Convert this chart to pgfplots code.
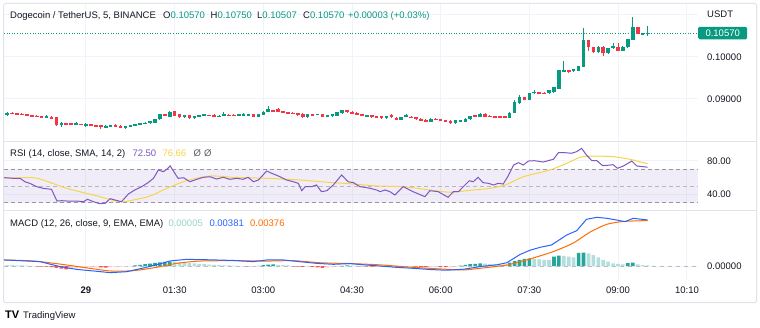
\documentclass[border=0pt]{standalone}
\usepackage{fontspec}
\setmainfont{Liberation Sans}
\usepackage{pgfplots}
\pgfplotsset{compat=1.18}
\usepackage{pgfplotstable}
\newcommand{\tvf}{\fontsize{9.5}{11.5}\selectfont}
\definecolor{tvgreen}{HTML}{089981}
\definecolor{tvred}{HTML}{F23645}
\definecolor{tvtext}{HTML}{131722}
\definecolor{tvgrid}{HTML}{F0F3FA}
\definecolor{tvborder}{HTML}{E0E3EB}
\definecolor{rsipurple}{HTML}{7E57C2}
\definecolor{rsiyellow}{HTML}{F7D54A}
\definecolor{bandgray}{HTML}{9598A1}
\definecolor{zerogray}{HTML}{B8BBC2}
\definecolor{macdblue}{HTML}{2962FF}
\definecolor{macdorange}{HTML}{FF6D00}
\definecolor{hdark}{HTML}{26A69A}
\definecolor{hlight}{HTML}{B2DFDB}
\definecolor{hred}{HTML}{FF5252}
\definecolor{hpink}{HTML}{FFCDD2}

% ---------- candles (index i = 5-minute bar, 0 = 00:00 on the 29th) ----------
\pgfplotstableread{
i o h l c
-16 0.08612 0.08690 0.08595 0.08674
-8 0.08571 0.08619 0.08560 0.08595
-5 0.08381 0.08445 0.08340 0.08436
-2 0.08398 0.08452 0.08388 0.08421
0 0.08364 0.08421 0.08326 0.08412
4 0.08326 0.08374 0.08317 0.08364
5 0.08340 0.08388 0.08333 0.08381
8 0.08302 0.08364 0.08293 0.08357
9 0.08350 0.08388 0.08340 0.08381
10 0.08374 0.08412 0.08364 0.08405
11 0.08388 0.08429 0.08381 0.08421
12 0.08405 0.08445 0.08398 0.08436
13 0.08421 0.08483 0.08412 0.08476
14 0.08436 0.08531 0.08429 0.08524
15 0.08517 0.08643 0.08507 0.08636
17 0.08579 0.08707 0.08571 0.08698
20 0.08564 0.08619 0.08555 0.08612
22 0.08540 0.08595 0.08531 0.08588
23 0.08579 0.08626 0.08571 0.08619
24 0.08595 0.08643 0.08588 0.08636
27 0.08579 0.08612 0.08571 0.08602
28 0.08602 0.08690 0.08595 0.08643
31 0.08602 0.08643 0.08595 0.08636
32 0.08602 0.08674 0.08595 0.08643
33 0.08602 0.08650 0.08595 0.08643
35 0.08579 0.08650 0.08571 0.08643
36 0.08619 0.08707 0.08612 0.08698
37 0.08698 0.08833 0.08690 0.08755
45 0.08579 0.08643 0.08540 0.08636
47 0.08619 0.08650 0.08612 0.08643
49 0.08571 0.08626 0.08564 0.08619
50 0.08588 0.08643 0.08579 0.08636
51 0.08602 0.08690 0.08595 0.08683
52 0.08660 0.08745 0.08650 0.08738
57 0.08588 0.08626 0.08579 0.08619
61 0.08540 0.08602 0.08531 0.08595
64 0.08500 0.08579 0.08493 0.08571
65 0.08571 0.08650 0.08564 0.08612
70 0.08459 0.08540 0.08452 0.08531
75 0.08421 0.08507 0.08412 0.08500
76 0.08459 0.08507 0.08452 0.08500
77 0.08459 0.08540 0.08452 0.08531
78 0.08517 0.08602 0.08507 0.08595
80 0.08579 0.08660 0.08571 0.08650
86 0.08555 0.08683 0.08548 0.08674
87 0.08674 0.08976 0.08667 0.08921
88 0.08898 0.09095 0.08888 0.09040
90 0.08976 0.09143 0.08969 0.09136
91 0.09136 0.09214 0.09126 0.09174
94 0.09136 0.09221 0.09126 0.09214
95 0.09160 0.09286 0.09150 0.09279
96 0.09238 0.09698 0.09231 0.09691
97 0.09660 0.09905 0.09650 0.09691
99 0.09660 0.09714 0.09650 0.09707
100 0.09674 0.09793 0.09667 0.09786
101 0.09769 0.10683 0.09762 0.10405
104 0.10112 0.10255 0.10102 0.10245
106 0.10088 0.10214 0.10079 0.10207
107 0.10207 0.10326 0.10198 0.10262
109 0.10150 0.10255 0.10143 0.10245
110 0.10231 0.10429 0.10221 0.10421
111 0.10405 0.10960 0.10398 0.10707
113 0.10548 0.10579 0.10524 0.10571
114 0.10567 0.10750 0.10507 0.10570
}\candlesG

\pgfplotstableread{
i o h l c
-15 0.08667 0.08679 0.08631 0.08643
-14 0.08660 0.08667 0.08631 0.08643
-13 0.08650 0.08660 0.08619 0.08636
-12 0.08636 0.08643 0.08595 0.08602
-11 0.08612 0.08619 0.08571 0.08579
-10 0.08607 0.08619 0.08564 0.08571
-9 0.08583 0.08595 0.08560 0.08571
-7 0.08579 0.08588 0.08531 0.08540
-6 0.08564 0.08571 0.08369 0.08381
-4 0.08417 0.08429 0.08388 0.08398
-3 0.08417 0.08429 0.08388 0.08398
-1 0.08405 0.08412 0.08374 0.08381
1 0.08398 0.08405 0.08374 0.08381
2 0.08381 0.08388 0.08340 0.08350
3 0.08374 0.08381 0.08279 0.08326
6 0.08388 0.08398 0.08340 0.08350
7 0.08364 0.08374 0.08302 0.08310
16 0.08636 0.08643 0.08588 0.08595
18 0.08707 0.08721 0.08595 0.08607
19 0.08636 0.08643 0.08555 0.08564
21 0.08612 0.08619 0.08531 0.08540
25 0.08619 0.08626 0.08595 0.08602
26 0.08626 0.08636 0.08571 0.08579
29 0.08626 0.08636 0.08595 0.08602
30 0.08626 0.08636 0.08588 0.08595
34 0.08643 0.08650 0.08571 0.08579
38 0.08738 0.08745 0.08690 0.08698
39 0.08762 0.08793 0.08690 0.08698
40 0.08714 0.08721 0.08667 0.08674
41 0.08690 0.08698 0.08643 0.08650
42 0.08674 0.08683 0.08636 0.08643
43 0.08660 0.08667 0.08602 0.08612
44 0.08650 0.08660 0.08555 0.08564
46 0.08636 0.08643 0.08602 0.08612
48 0.08636 0.08643 0.08564 0.08571
53 0.08738 0.08745 0.08674 0.08683
54 0.08698 0.08707 0.08636 0.08643
55 0.08674 0.08683 0.08612 0.08619
56 0.08636 0.08643 0.08595 0.08602
58 0.08619 0.08626 0.08555 0.08564
59 0.08595 0.08602 0.08564 0.08571
60 0.08595 0.08602 0.08531 0.08540
62 0.08612 0.08643 0.08555 0.08564
63 0.08555 0.08564 0.08493 0.08500
66 0.08579 0.08588 0.08548 0.08555
67 0.08564 0.08571 0.08507 0.08517
68 0.08531 0.08540 0.08476 0.08483
69 0.08507 0.08517 0.08452 0.08459
71 0.08531 0.08540 0.08493 0.08500
72 0.08517 0.08524 0.08476 0.08483
73 0.08500 0.08507 0.08445 0.08452
74 0.08483 0.08493 0.08412 0.08421
79 0.08619 0.08626 0.08571 0.08579
81 0.08650 0.08674 0.08571 0.08579
82 0.08602 0.08612 0.08564 0.08571
83 0.08595 0.08602 0.08548 0.08555
84 0.08588 0.08595 0.08548 0.08555
85 0.08588 0.08595 0.08548 0.08555
89 0.09040 0.09055 0.08969 0.08976
92 0.09160 0.09167 0.09126 0.09136
93 0.09150 0.09160 0.09112 0.09119
98 0.09691 0.09698 0.09612 0.09650
102 0.10405 0.10412 0.10150 0.10231
103 0.10231 0.10238 0.10102 0.10112
105 0.10245 0.10255 0.10024 0.10088
108 0.10245 0.10326 0.10143 0.10150
112 0.10707 0.10714 0.10540 0.10548
}\candlesR

% ---------- RSI and its SMA ----------
\pgfplotstableread{
i r
-16.6 60.0
-14.8 59.2
-13.4 59.2
-12.4 55.1
-11.4 53.2
-10.0 49.2
-8.7 47.2
-7.0 46.0
-5.9 32.0
-4.9 32.4
-3.9 32.0
-1.9 32.0
-0.5 31.2
0.3 34.1
1.5 31.2
2.8 28.8
3.9 29.3
4.9 34.8
5.9 33.2
7.2 31.2
8.6 40.4
9.9 45.2
11.3 49.2
12.6 54.0
13.7 59.2
14.7 69.2
15.7 67.1
16.4 70.0
17.1 74.0
17.7 68.3
18.7 59.2
19.8 59.9
21.1 55.1
22.5 58.0
23.8 60.4
25.2 61.1
26.5 58.4
27.9 60.4
29.2 58.0
30.6 59.2
31.9 58.0
32.9 60.4
34.0 55.1
35.0 57.2
36.7 68.0
37.7 65.2
39.4 61.1
40.7 57.2
42.1 55.1
43.1 53.2
43.8 44.4
44.5 49.2
45.8 49.2
46.8 51.2
47.8 43.2
48.9 44.4
50.2 51.2
51.9 63.2
53.2 55.1
54.3 54.0
55.6 49.2
56.6 48.4
57.7 47.2
59.0 45.2
59.7 43.2
60.7 45.2
61.7 43.2
62.7 39.2
64.4 49.2
66.4 43.2
68.8 37.2
69.8 44.4
71.5 43.2
73.5 36.5
74.6 43.2
75.6 43.2
76.6 49.2
77.8 56.3
78.6 55.1
79.6 60.4
80.6 54.0
81.7 53.2
82.7 51.2
83.7 53.2
84.7 52.4
85.7 62.0
86.8 75.1
87.8 77.9
88.8 75.1
89.8 79.9
91.1 80.3
92.8 78.7
93.8 80.3
94.9 82.0
95.9 89.9
97.2 89.9
98.6 89.2
99.6 91.1
100.6 95.1
101.6 87.1
102.7 80.3
103.7 80.3
104.9 74.3
106.4 75.1
107.0 75.5
107.9 71.2
109.1 74.0
110.8 79.9
111.8 74.0
114.0 72.5
}\rsi

\pgfplotstableread{
i s
-16.6 59.5
-10.8 59.9
-8.7 57.2
-3.9 47.2
1.5 39.2
6.9 31.2
9.6 33.2
13.0 38.0
16.4 47.2
20.4 56.3
25.2 62.0
29.9 60.4
36.7 59.2
43.4 57.2
50.1 54.0
54.3 52.4
59.0 50.0
64.4 49.2
69.8 45.2
73.9 42.5
77.3 44.4
82.0 47.2
85.1 51.2
88.8 61.1
94.2 69.2
97.6 77.2
100.3 84.4
102.3 85.9
107.0 85.1
110.4 82.0
114.0 76.66
}\rsima

% ---------- MACD ----------
\pgfplotstableread{
i m
-16.6 0.00050
-13.4 0.00044
-9.3 0.00036
-5.3 -0.00005
-1.9 -0.00028
1.5 -0.00041
4.9 -0.00055
8.3 -0.00047
11.6 -0.00017
15.0 0.00018
17.1 0.00042
20.4 0.00055
24.5 0.00052
29.9 0.00046
34.0 0.00036
36.7 0.00050
40.1 0.00050
43.4 0.00036
46.8 0.00022
50.2 0.00014
53.6 0.00020
56.9 0.00008
59.0 0.00002
63.0 -0.00011
66.4 -0.00019
69.8 -0.00029
73.2 -0.00035
76.6 -0.00027
80.0 -0.00005
83.4 0.00010
85.4 0.00027
86.8 0.00062
88.1 0.00095
90.1 0.00130
92.2 0.00155
94.5 0.00174
95.5 0.00201
97.6 0.00257
99.6 0.00292
100.6 0.00339
101.6 0.00387
103.7 0.00403
105.7 0.00395
107.7 0.00381
109.4 0.00367
111.1 0.00395
114.0 0.00381
}\macd

\pgfplotstableread{
i s
-16.6 0.00050
-10.8 0.00042
-5.3 0.00016
0.1 -0.00015
4.9 -0.00041
9.6 -0.00039
14.3 -0.00011
18.4 0.00022
23.1 0.00041
29.9 0.00044
36.7 0.00041
42.1 0.00044
47.5 0.00027
53.6 0.00020
59.5 0.00010
66.4 -0.00011
73.2 -0.00027
76.6 -0.00033
80.0 -0.00019
85.4 0.00008
90.1 0.00058
94.9 0.00120
98.9 0.00190
102.3 0.00280
105.7 0.00345
109.1 0.00369
114.0 0.00376
}\signal

\pgfplotstableread{
i v
10 0.00005
11 0.00010
12 0.00015
13 0.00020
14 0.00026
15 0.00031
16 0.00034
17 0.00037
35 0.00002
36 0.00008
37 0.00012
38 0.00013
52 0.00002
53 0.00006
76 0.00004
77 0.00009
78 0.00016
79 0.00018
80 0.00022
86 0.00027
87 0.00040
88 0.00050
89 0.00058
90 0.00064
95 0.00077
96 0.00085
100 0.00108
101 0.00110
110 0.00024
111 0.00027
}\histD

\pgfplotstableread{
i v
-16 0.00008
-15 0.00007
-14 0.00006
-13 0.00005
-12 0.00003
-11 0.00002
18 0.00034
19 0.00030
20 0.00027
21 0.00024
22 0.00021
23 0.00018
24 0.00015
25 0.00012
26 0.00010
27 0.00008
28 0.00006
29 0.00005
30 0.00003
31 0.00002
39 0.00010
40 0.00008
41 0.00005
54 0.00004
55 0.00001
81 0.00019
82 0.00016
83 0.00014
84 0.00012
85 0.00011
91 0.00058
92 0.00054
93 0.00050
94 0.00050
97 0.00083
98 0.00078
99 0.00072
102 0.00105
103 0.00091
104 0.00072
105 0.00050
106 0.00036
107 0.00022
108 0.00017
109 0.00014
112 0.00014
113 0.00008
114 0.00005
}\histL

\pgfplotstableread{
i v
-10 -0.00003
-9 -0.00005
-8 -0.00006
-7 -0.00010
-6 -0.00016
-5 -0.00022
-4 -0.00028
3 -0.00012
4 -0.00014
32 -0.00002
33 -0.00004
42 -0.00003
43 -0.00005
44 -0.00008
46 -0.00008
47 -0.00012
48 -0.00016
56 -0.00003
57 -0.00004
58 -0.00005
62 -0.00004
63 -0.00006
67 -0.00005
68 -0.00007
69 -0.00009
72 -0.00009
73 -0.00010
}\histR

\pgfplotstableread{
i v
-3 -0.00025
-2 -0.00020
-1 -0.00016
0 -0.00013
1 -0.00012
2 -0.00011
5 -0.00012
6 -0.00010
7 -0.00008
8 -0.00005
9 -0.00002
34 -0.00003
45 -0.00007
49 -0.00013
50 -0.00010
51 -0.00006
59 -0.00004
60 -0.00004
61 -0.00003
64 -0.00005
65 -0.00004
66 -0.00004
70 -0.00008
71 -0.00007
74 -0.00009
75 -0.00006
}\histP

\pgfplotsset{
  tvpane/.style={
    scale only axis, width=694pt, xmin=-16.646, xmax=124.24,
    axis line style={draw=none},
    major tick length=0pt,
    scaled y ticks=false, scaled x ticks=false,
    xtick={0,18,36,54,72,90,108,122},
    xmajorgrids, ymajorgrids,
    major grid style={draw=tvgrid, line width=1pt},
    yticklabel pos=right,
    yticklabel style={anchor=west, inner sep=0pt, xshift=9pt, font=\tvf, text=tvtext},
    clip mode=individual,
  },
  wick/.style={draw=none, mark=none, forget plot,
    error bars/.cd, y dir=both, y explicit, error mark=none,
    error bar style={draw=#1, line width=1pt}},
  body/.style={draw=none, mark=none, forget plot,
    error bars/.cd, y dir=both, y explicit, error mark=none,
    error bar style={draw=#1, line width=3.6pt}},
  hbar/.style={ybar, bar width=3.6pt, bar shift=0pt, draw=none, fill=#1, forget plot},
}

\begin{document}
\begin{tikzpicture}[font=\tvf]
\useasboundingbox (0pt,0pt) rectangle (760pt,327pt);
\fill[white] (0pt,0pt) rectangle (760pt,327pt);

% ================= price pane =================
\begin{axis}[tvpane, at={(4pt,186pt)}, anchor=south west, height=137pt,
  ymin=0.08, ymax=0.112619,
  ytick={0.09,0.10,0.11}, yticklabels={0.09000,0.10000,{}},
  xticklabels={}]
\addplot[tvgreen, dash pattern=on 1pt off 1.6pt, line width=0.8pt, forget plot]
  coordinates {(-16.646,0.10570) (124.24,0.10570)};
\addplot[wick=tvgreen] table[x=i, y expr={(\thisrow{h}+\thisrow{l})/2}, y error expr={(\thisrow{h}-\thisrow{l})/2}] {\candlesG};
\addplot[wick=tvred] table[x=i, y expr={(\thisrow{h}+\thisrow{l})/2}, y error expr={(\thisrow{h}-\thisrow{l})/2}] {\candlesR};
\addplot[body=tvgreen] table[x=i, y expr={(\thisrow{o}+\thisrow{c})/2}, y error expr={max(abs(\thisrow{c}-\thisrow{o})/2,0.00011)}] {\candlesG};
\addplot[body=tvred] table[x=i, y expr={(\thisrow{o}+\thisrow{c})/2}, y error expr={max(abs(\thisrow{c}-\thisrow{o})/2,0.00011)}] {\candlesR};
\node[fill=tvgreen, text=white, font=\tvf, anchor=west, inner sep=0pt,
  minimum width=49pt, minimum height=12.6pt, rounded corners=1.5pt] at (axis cs:124.24,0.10570) {0.10570};
\end{axis}

% ================= RSI pane =================
\begin{axis}[tvpane, at={(4pt,117pt)}, anchor=south west, height=68pt,
  ymin=21.26, ymax=102.69,
  ytick={40,80}, yticklabels={40.00,80.00},
  xticklabels={}]
\addplot[draw=none, fill=rsipurple, fill opacity=0.1, forget plot]
  coordinates {(-16.646,30) (124.24,30) (124.24,70) (-16.646,70)};
\addplot[bandgray, line width=0.8pt, dash pattern=on 4pt off 3pt, forget plot]
  coordinates {(-16.646,70) (124.24,70)};
\addplot[bandgray!70, line width=0.8pt, dash pattern=on 4pt off 3pt, forget plot]
  coordinates {(-16.646,50) (124.24,50)};
\addplot[bandgray, line width=0.8pt, dash pattern=on 4pt off 3pt, forget plot]
  coordinates {(-16.646,30) (124.24,30)};
\addplot[rsiyellow, line width=1pt, smooth, tension=0.4] table[x=i, y=s] {\rsima};
\addplot[rsipurple, line width=1pt] table[x=i, y=r] {\rsi};
\end{axis}

% ================= MACD pane =================
\begin{axis}[tvpane, at={(4pt,47pt)}, anchor=south west, height=69pt,
  ymin=-0.001159, ymax=0.004554,
  ytick={0}, yticklabels={0.00000},
  xticklabels={\textbf{29},01:30,03:00,04:30,06:00,07:30,09:00,10:10},
  xticklabel style={anchor=base, inner sep=0pt, yshift=-13.3pt, font=\tvf, text=tvtext}]
\addplot[zerogray, line width=0.8pt, dash pattern=on 4pt off 4pt, forget plot]
  coordinates {(-16.646,0) (124.24,0)};
\addplot[hbar=hdark] table[x=i, y=v] {\histD};
\addplot[hbar=hlight] table[x=i, y=v] {\histL};
\addplot[hbar=hred] table[x=i, y=v] {\histR};
\addplot[hbar=hpink] table[x=i, y=v] {\histP};
\addplot[macdorange, line width=1pt, smooth, tension=0.4] table[x=i, y=s] {\signal};
\addplot[macdblue, line width=1pt] table[x=i, y=m] {\macd};
\end{axis}

% ================= frame and separators =================
\draw[tvborder, line width=1pt, rounded corners=2pt] (3.5pt,24.5pt) rectangle (756.5pt,323.5pt);
\draw[tvborder, line width=1pt] (3.5pt,185.5pt) -- (756.5pt,185.5pt);
\draw[tvborder, line width=1pt] (3.5pt,116.5pt) -- (756.5pt,116.5pt);

% ================= legends / headers =================
\node[anchor=base west, inner sep=0pt, text=tvtext] at (10pt,308pt) {Dogecoin / TetherUS, 5, BINANCE};
\node[anchor=base west, inner sep=0pt, text=tvtext] at (163pt,308pt) {O\textcolor{tvgreen}{0.10570}};
\node[anchor=base west, inner sep=0pt, text=tvtext] at (210.5pt,308pt) {H\textcolor{tvgreen}{0.10750}};
\node[anchor=base west, inner sep=0pt, text=tvtext] at (257pt,308pt) {L\textcolor{tvgreen}{0.10507}};
\node[anchor=base west, inner sep=0pt, text=tvtext] at (303pt,308pt) {C\textcolor{tvgreen}{0.10570}};
\node[anchor=base west, inner sep=0pt, text=tvgreen] at (348pt,308pt) {+0.00003 (+0.03\%)};
\node[anchor=west, inner sep=0pt, text=tvtext] at (707pt,313pt) {USDT};

\node[anchor=base west, inner sep=0pt, text=tvtext] at (10pt,170.3pt) {RSI (14, close, SMA, 14, 2)};
\node[anchor=base west, inner sep=0pt, text=rsipurple] at (132.3pt,170.3pt) {72.50};
\node[anchor=base west, inner sep=0pt, text=rsiyellow] at (162.3pt,170.3pt) {76.66};
\node[anchor=base west, inner sep=0pt, text=tvtext!70] at (193.3pt,170.3pt) {Ø};
\node[anchor=base west, inner sep=0pt, text=tvtext!70] at (204pt,170.3pt) {Ø};

\node[anchor=base west, inner sep=0pt, text=tvtext] at (10pt,100.3pt) {MACD (12, 26, close, 9, EMA, EMA)};
\node[anchor=base west, inner sep=0pt, text=hlight!80!hdark] at (168.3pt,100.3pt) {0.00005};
\node[anchor=base west, inner sep=0pt, text=macdblue] at (209.3pt,100.3pt) {0.00381};
\node[anchor=base west, inner sep=0pt, text=macdorange] at (250pt,100.3pt) {0.00376};

% ================= TradingView mark =================
\node[anchor=base west, inner sep=0pt, text=black] at (5pt,9pt) {\fontsize{11}{11}\selectfont\bfseries TV};
\node[anchor=base west, inner sep=0pt, text=tvtext] at (23pt,9pt) {TradingView};
\end{tikzpicture}
\end{document}
